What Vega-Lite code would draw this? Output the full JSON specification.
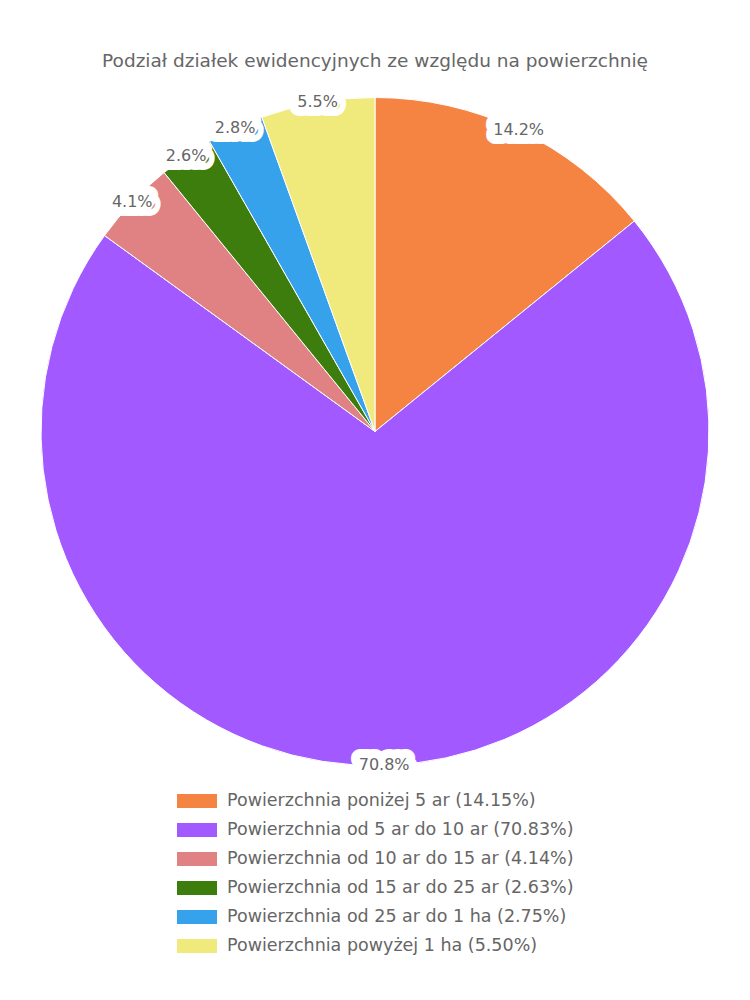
{
  "$schema": "https://vega.github.io/schema/vega-lite/v6.json",
  "width": 750,
  "height": 683,
  "autosize": {"type": "none"},
  "padding": {"top": 90, "left": 0, "right": 0, "bottom": 227},
  "background": "white",
  "config": {"view": {"stroke": null}, "font": "DejaVu Sans"},
  "title": {"text": "Podział działek ewidencyjnych ze względu na powierzchnię", "fontSize": 18.5, "fontWeight": "normal", "color": "#666", "offset": 20, "anchor": "middle"},
  "data": {"values": [
    {"i": 1, "category": "Powierzchnia poniżej 5 ar (14.15%)", "value": 14.15, "label": "14.2%"},
    {"i": 2, "category": "Powierzchnia od 5 ar do 10 ar (70.83%)", "value": 70.83, "label": "70.8%"},
    {"i": 3, "category": "Powierzchnia od 10 ar do 15 ar (4.14%)", "value": 4.14, "label": "4.1%"},
    {"i": 4, "category": "Powierzchnia od 15 ar do 25 ar (2.63%)", "value": 2.63, "label": "2.6%"},
    {"i": 5, "category": "Powierzchnia od 25 ar do 1 ha (2.75%)", "value": 2.75, "label": "2.8%"},
    {"i": 6, "category": "Powierzchnia powyżej 1 ha (5.50%)", "value": 5.5, "label": "5.5%"}
  ]},
  "encoding": {
    "theta": {"field": "value", "type": "quantitative", "stack": true},
    "order": {"field": "i", "type": "quantitative", "sort": "ascending"}
  },
  "layer": [
    {
      "mark": {"type": "arc", "outerRadius": 334, "stroke": "white", "strokeWidth": 1},
      "encoding": {
        "color": {
          "field": "category", "type": "nominal",
          "scale": {
            "domain": [
              "Powierzchnia poniżej 5 ar (14.15%)",
              "Powierzchnia od 5 ar do 10 ar (70.83%)",
              "Powierzchnia od 10 ar do 15 ar (4.14%)",
              "Powierzchnia od 15 ar do 25 ar (2.63%)",
              "Powierzchnia od 25 ar do 1 ha (2.75%)",
              "Powierzchnia powyżej 1 ha (5.50%)"
            ],
            "range": ["#F58442", "#A259FF", "#E08283", "#3D7D0D", "#36A2EB", "#F0EA7D"]
          },
          "legend": {
            "orient": "none", "legendX": 177, "legendY": 691, "title": null,
            "symbolType": "M-1,-0.35H1V0.35H-1Z", "symbolSize": 1600, "symbolStrokeWidth": 0,
            "labelFontSize": 17.5, "labelColor": "#666", "labelOffset": 10, "rowPadding": -2,
            "labelLimit": 600
          }
        }
      }
    },
    {
      "mark": {"type": "text", "radius": 334, "fontSize": 16, "fill": "white", "stroke": "white", "strokeWidth": 18, "strokeJoin": "round", "strokeCap": "round"},
      "encoding": {"detail": {"field": "category"}, "text": {"field": "label"}}
    },
    {
      "mark": {"type": "text", "radius": 334, "fontSize": 16, "fill": "#666"},
      "encoding": {"detail": {"field": "category"}, "text": {"field": "label"}}
    }
  ]
}
